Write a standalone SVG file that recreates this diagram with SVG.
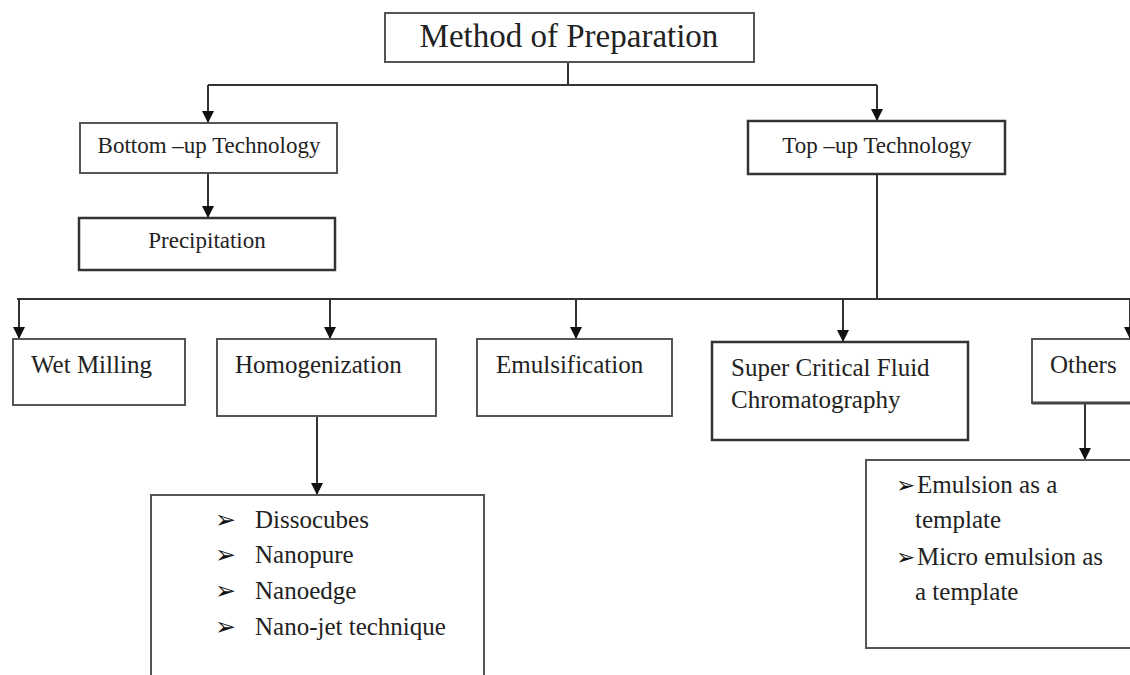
<svg xmlns="http://www.w3.org/2000/svg" width="1130" height="675" viewBox="0 0 1130 675">
  <defs>
    <marker id="arr" viewBox="0 0 12 12" refX="12" refY="6" markerWidth="12" markerHeight="12" markerUnits="userSpaceOnUse" orient="auto">
      <path d="M0,0 L12,6 L0,12 Z" fill="#111"/>
    </marker>
  </defs>
  <style>
    .box { fill: #fff; stroke: #555; stroke-width: 2; }
    .bold { stroke: #333; stroke-width: 2.5; }
    .t { font-family: "Liberation Serif", "Times New Roman", serif; fill: #222; }
    .b { font-family: "DejaVu Sans", sans-serif; fill: #111; }
    .ln { fill: none; stroke: #333; stroke-width: 2; }
    .ar { fill: none; stroke: #333; stroke-width: 2; marker-end: url(#arr); }
  </style>
  <rect width="1130" height="675" fill="#fff"/>

  <g id="connectors">
    <path class="ln" d="M568,62 V85"/>
    <path class="ln" d="M208,85 H877"/>
    <path class="ar" d="M208,85 V123"/>
    <path class="ar" d="M877,85 V121"/>
    <path class="ar" d="M208,173 V218"/>
    <path class="ln" d="M877,174 V299"/>
    <path class="ln" d="M17,299 H1130"/>
    <path class="ar" d="M19,299 V339"/>
    <path class="ar" d="M330,300 V339"/>
    <path class="ar" d="M576,300 V339"/>
    <path class="ar" d="M843,300 V342"/>
    <path class="ar" d="M1130,300 V339"/>
    <path class="ar" d="M1085,403 V460"/>
    <path class="ar" d="M317,416 V495"/>
  </g>

  <g id="node-method">
    <rect class="box" x="385" y="13" width="369" height="49"/>
    <text class="t" x="569" y="47" font-size="33" text-anchor="middle">Method of Preparation</text>
  </g>

  <g id="node-bottom-up">
    <rect class="box" x="80" y="123" width="257" height="50"/>
    <text class="t" x="209" y="153" font-size="23" text-anchor="middle">Bottom –up Technology</text>
  </g>

  <g id="node-precipitation">
    <rect class="box bold" x="79" y="218" width="256" height="52"/>
    <text class="t" x="207" y="248" font-size="23" text-anchor="middle">Precipitation</text>
  </g>

  <g id="node-top-up">
    <rect class="box bold" x="748" y="121" width="257" height="53"/>
    <text class="t" x="877" y="153" font-size="23" text-anchor="middle">Top –up Technology</text>
  </g>

  <g id="node-wet-milling">
    <rect class="box" x="13" y="339" width="172" height="66"/>
    <text class="t" x="31" y="373" font-size="25">Wet Milling</text>
  </g>

  <g id="node-homogenization">
    <rect class="box" x="217" y="339" width="219" height="77"/>
    <text class="t" x="235" y="373" font-size="25">Homogenization</text>
  </g>

  <g id="node-emulsification">
    <rect class="box" x="477" y="339" width="195" height="77"/>
    <text class="t" x="496" y="373" font-size="25">Emulsification</text>
  </g>

  <g id="node-scf">
    <rect class="box bold" x="712" y="342" width="256" height="98"/>
    <text class="t" x="731" y="376" font-size="25">Super Critical Fluid</text>
    <text class="t" x="731" y="408" font-size="25">Chromatography</text>
  </g>

  <g id="node-others">
    <rect class="box" x="1032" y="339" width="110" height="64"/>
    <path d="M1032,403 H1130" stroke="#444" stroke-width="3"/>
    <text class="t" x="1050" y="373" font-size="25">Others</text>
  </g>

  <g id="node-homog-list">
    <rect class="box" x="151" y="495" width="333" height="200"/>
    <text class="b" x="215" y="528" font-size="25">➢</text>
    <text class="t" x="255" y="528" font-size="25">Dissocubes</text>
    <text class="b" x="215" y="563" font-size="25">➢</text>
    <text class="t" x="255" y="563" font-size="25">Nanopure</text>
    <text class="b" x="215" y="599" font-size="25">➢</text>
    <text class="t" x="255" y="599" font-size="25">Nanoedge</text>
    <text class="b" x="215" y="635" font-size="25">➢</text>
    <text class="t" x="255" y="635" font-size="25">Nano-jet technique</text>
  </g>

  <g id="node-others-list">
    <rect class="box" x="866" y="460" width="280" height="188"/>
    <text class="b" x="896" y="493" font-size="23">➢</text>
    <text class="t" x="917" y="493" font-size="25">Emulsion as a</text>
    <text class="t" x="915" y="528" font-size="25">template</text>
    <text class="b" x="896" y="565" font-size="23">➢</text>
    <text class="t" x="917" y="565" font-size="25">Micro emulsion as</text>
    <text class="t" x="915" y="600" font-size="25">a template</text>
  </g>
</svg>
